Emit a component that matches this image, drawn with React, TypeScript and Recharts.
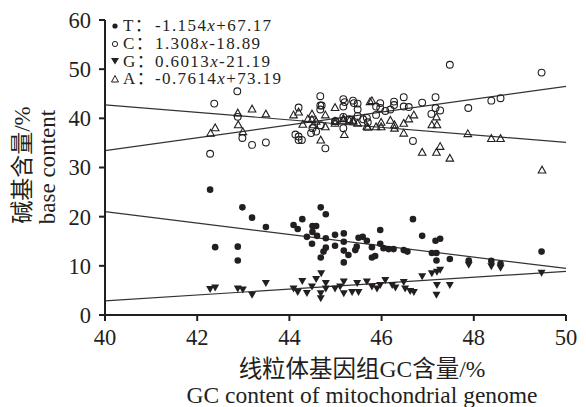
import React from 'react';
import { ScatterChart, Scatter, XAxis, YAxis, ReferenceLine } from 'recharts';

// GC content (x, %) vs base content (y, %) for each base
const tPoints = [
  [42.28, 25.5], [42.98, 21.9], [43.19, 19.8], [43.49, 17.9], [42.39, 13.8], [42.88, 13.9], [42.88, 11.1],
  [44.09, 18.3], [44.18, 17.5], [44.28, 19.5], [44.68, 21.9], [44.79, 20.5], [44.5, 18.1], [44.58, 18.1],
  [44.5, 16.9], [44.38, 15.9], [44.6, 16.1], [44.79, 15.6], [44.49, 14.5], [44.79, 13.7], [44.74, 12.9],
  [44.68, 11.7], [44.99, 16.3], [45.18, 16.6], [44.99, 14.1], [45.18, 14.9], [45.18, 13.1], [45.18, 10.7],
  [45.28, 12.2], [45.43, 13.2], [45.5, 15.7], [45.59, 15.9], [45.68, 15.1], [45.46, 13.9], [45.79, 13.8],
  [45.79, 11.7], [45.86, 12.0], [45.97, 17.3], [45.97, 14.5], [46.04, 13.6], [46.15, 13.4], [46.26, 13.4],
  [46.48, 13.2], [46.56, 12.9], [46.68, 19.5], [46.88, 16.1], [47.17, 15.1], [47.27, 15.5], [47.09, 12.6],
  [47.19, 12.6], [47.19, 11.1], [47.48, 11.4], [47.89, 11.1], [48.38, 11.0], [48.58, 10.4], [49.47, 12.9],
];

const cPoints = [
  [42.28, 32.8], [42.37, 43.0], [42.87, 45.5], [42.88, 40.3], [42.98, 36.0], [43.19, 34.6], [43.49, 35.1],
  [44.13, 36.7], [44.2, 36.3], [44.27, 35.6], [44.2, 35.6], [44.2, 42.2], [44.47, 37.0], [44.5, 38.0],
  [44.58, 37.3], [44.68, 38.6], [44.78, 33.9], [44.67, 44.5], [44.67, 42.6], [44.7, 42.6], [44.67, 41.8],
  [45.0, 39.4], [45.17, 43.9], [45.2, 43.3], [45.17, 42.4], [45.38, 43.6], [45.4, 43.1], [45.48, 43.0],
  [45.48, 41.8], [45.48, 40.5], [45.17, 40.3], [45.17, 38.0], [44.99, 39.4], [45.3, 39.8], [45.6, 39.8],
  [45.7, 39.2], [45.68, 40.1], [45.88, 42.4], [45.88, 40.7], [45.97, 43.1], [45.97, 42.1], [46.08, 41.5],
  [46.19, 41.8], [46.27, 43.4], [46.27, 42.7], [46.48, 44.3], [46.48, 42.4], [46.59, 42.3], [46.68, 35.4],
  [46.88, 43.2], [47.08, 40.9], [47.17, 44.3], [47.17, 42.1], [47.27, 41.6], [47.48, 50.9], [47.88, 42.1],
  [48.38, 43.6], [48.58, 44.1], [49.47, 49.3],
];

const gPoints = [
  [42.28, 5.3], [42.39, 5.6], [42.88, 5.4], [42.99, 5.2], [43.19, 4.1], [43.49, 6.5], [44.09, 5.4],
  [44.18, 4.7], [44.28, 6.9], [44.38, 4.5], [44.49, 5.8], [44.58, 7.3], [44.69, 8.5], [44.68, 4.4],
  [44.68, 3.4], [44.79, 6.5], [44.79, 5.4], [44.99, 5.4], [45.1, 5.8], [45.18, 6.8], [45.18, 4.4],
  [45.36, 4.7], [45.47, 6.5], [45.5, 4.7], [45.68, 6.8], [45.79, 5.8], [45.9, 5.4], [45.97, 6.1],
  [46.08, 7.1], [46.23, 6.1], [46.3, 5.6], [46.48, 6.7], [46.51, 5.4], [46.62, 4.9], [46.7, 4.7],
  [46.88, 7.9], [47.09, 8.5], [47.2, 8.8], [47.27, 9.2], [47.2, 6.1], [47.19, 4.1], [47.48, 6.1],
  [47.89, 10.2], [48.38, 9.9], [48.58, 9.6], [49.47, 8.6],
];

const aPoints = [
  [42.29, 37.0], [42.39, 38.1], [42.88, 41.1], [42.89, 38.7], [42.99, 37.3], [43.19, 41.9], [43.49, 40.9],
  [44.09, 40.7], [44.2, 41.3], [44.29, 38.8], [44.4, 39.9], [44.49, 40.9], [44.49, 39.8], [44.58, 39.4],
  [44.52, 38.7], [44.68, 35.6], [44.78, 38.3], [44.78, 40.7], [44.99, 42.2], [44.99, 39.4], [44.99, 39.0],
  [45.17, 40.0], [45.19, 36.7], [45.17, 39.6], [45.3, 39.6], [45.38, 39.4], [45.48, 39.0], [45.38, 39.6],
  [45.68, 38.4], [45.7, 38.2], [45.75, 43.4], [45.79, 43.6], [45.88, 38.3], [45.99, 39.2], [45.99, 38.3],
  [46.19, 39.6], [46.28, 38.7], [46.28, 38.0], [46.48, 39.0], [46.48, 37.0], [46.59, 39.9], [46.7, 40.7],
  [46.88, 33.1], [47.09, 38.7], [47.2, 38.7], [47.19, 40.3], [47.19, 33.1], [47.27, 34.3], [47.48, 31.9],
  [47.87, 36.9], [48.38, 35.9], [48.58, 35.9], [49.48, 29.5],
];

// linear fits, order T, C, G, A
const fitNames = ['T', 'C', 'G', 'A'];
const fitSlopes = [-1.154, 1.308, 0.6013, -0.7614];
const fitIntercepts = [67.17, -18.89, -21.19, 73.19];
const fitLabels = [['-1.154', '+67.17'], ['1.308', '-18.89'], ['0.6013', '-21.19'], ['-0.7614', '+73.19']];

const xTicks = [40, 42, 44, 46, 48, 50];
const yTicks = [0, 10, 20, 30, 40, 50, 60];

const INK = '#231f20';
const SERIF = '"Liberation Serif", "Times New Roman", "Noto Sans CJK SC", serif';

const toRows = (pts: number[][]) => pts.map(([x, y]) => ({ x, y }));

const FilledDot = (p: any) => <circle cx={p.cx} cy={p.cy} r={3.3} fill={INK} />;
const OpenDot = (p: any) => <circle cx={p.cx} cy={p.cy} r={3.4} fill="none" stroke={INK} strokeWidth={1.1} />;
const DownTri = (p: any) => (
  <path d={`M${p.cx - 4},${p.cy - 3} L${p.cx + 4},${p.cy - 3} L${p.cx},${p.cy + 4} Z`} fill={INK} />
);
const UpTri = (p: any) => (
  <path
    d={`M${p.cx - 3.8},${p.cy + 3} L${p.cx + 3.8},${p.cy + 3} L${p.cx},${p.cy - 3.8} Z`}
    fill="none"
    stroke={INK}
    strokeWidth={1.1}
  />
);

const legendMarks = [
  <circle cx={5} cy={5} r={2.6} fill={INK} />,
  <circle cx={5} cy={5} r={2.6} fill="none" stroke={INK} strokeWidth={1} />,
  <path d="M1,2 L9,2 L5,8.5 Z" fill={INK} />,
  <path d="M1.5,8 L8.5,8 L5,1.5 Z" fill="none" stroke={INK} strokeWidth={1} />,
];

const YTitle = () => (
  <g fill={INK} fontFamily={SERIF}>
    <text x={22} y={165} transform="rotate(-90 22 165)" textAnchor="middle" dominantBaseline="central" fontSize={23}>
      碱基含量/%
    </text>
    <text x={47} y={167} transform="rotate(-90 47 167)" textAnchor="middle" dominantBaseline="central" fontSize={23}>
      base content
    </text>
  </g>
);

const XTitle = () => (
  <g fill={INK} fontFamily={SERIF}>
    <text x={362} y={369} textAnchor="middle" dominantBaseline="central" fontSize={23.5}>
      线粒体基因组GC含量/%
    </text>
    <text x={362} y={395} textAnchor="middle" dominantBaseline="central" fontSize={23.5}>
      GC content of mitochondrial genome
    </text>
  </g>
);

export default function App() {
  return (
    <div style={{ position: 'absolute', left: 0, top: 0, width: 586, height: 407, background: '#fff' }}>
      <ScatterChart width={586} height={407} margin={{ top: 20, right: 20, bottom: 62, left: 55 }}>
        <XAxis
          type="number"
          dataKey="x"
          domain={[40, 50]}
          ticks={xTicks}
          axisLine={{ stroke: INK, strokeWidth: 2 }}
          tickLine={{ stroke: INK, strokeWidth: 2 }}
          tickSize={6}
          tickMargin={8}
          height={30}
          tick={{ fill: INK, fontSize: 22.5, fontFamily: SERIF }}
          label={{ content: () => <XTitle /> }}
        />
        <YAxis
          type="number"
          dataKey="y"
          domain={[0, 60]}
          ticks={yTicks}
          axisLine={{ stroke: INK, strokeWidth: 2 }}
          tickLine={{ stroke: INK, strokeWidth: 2 }}
          tickSize={6}
          tickMargin={8}
          width={50}
          tick={{ fill: INK, fontSize: 22.5, fontFamily: SERIF }}
          label={{ content: () => <YTitle /> }}
        />
        {fitSlopes.map((k, i) => (
          <ReferenceLine
            key={fitNames[i]}
            segment={[
              { x: 40, y: k * 40 + fitIntercepts[i] },
              { x: 50, y: k * 50 + fitIntercepts[i] },
            ]}
            stroke="#333"
            strokeWidth={1.2}
          />
        ))}
        <Scatter name="T" data={toRows(tPoints)} shape={FilledDot} isAnimationActive={false} />
        <Scatter name="C" data={toRows(cPoints)} shape={OpenDot} isAnimationActive={false} />
        <Scatter name="G" data={toRows(gPoints)} shape={DownTri} isAnimationActive={false} />
        <Scatter name="A" data={toRows(aPoints)} shape={UpTri} isAnimationActive={false} />
      </ScatterChart>
      <div
        style={{
          position: 'absolute',
          left: 110,
          top: 17,
          fontFamily: SERIF,
          fontSize: 17,
          letterSpacing: 1.4,
          color: INK,
          lineHeight: '17.8px',
        }}
      >
        {fitNames.map((n, i) => (
          <div key={n} style={{ display: 'flex', alignItems: 'center', height: 17.8 }}>
            <svg width={10} height={10} style={{ marginRight: 3 }}>
              {legendMarks[i]}
            </svg>
            <span style={{ width: 32, display: 'inline-block' }}>{n}：</span>
            <span>
              {fitLabels[i][0]}
              <i>x</i>
              {fitLabels[i][1]}
            </span>
          </div>
        ))}
      </div>
    </div>
  );
}
